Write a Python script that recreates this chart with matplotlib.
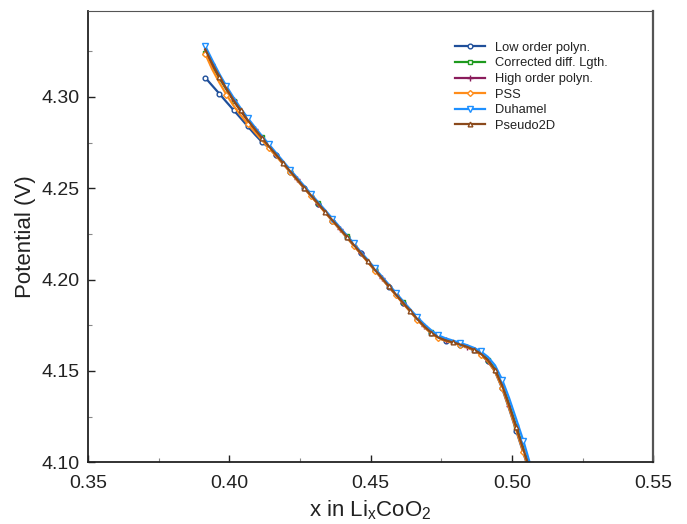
import matplotlib
matplotlib.use("Agg")
import matplotlib.pyplot as plt
from matplotlib.ticker import MultipleLocator, FormatStrFormatter

plt.rcParams['font.family'] = ['Liberation Sans', 'DejaVu Sans']
plt.rcParams['mathtext.default'] = 'regular'

x_li = [0.3915, 0.3940, 0.3965, 0.3990, 0.4015, 0.4040, 0.4065, 0.4090, 0.4115, 0.4140,
        0.4165, 0.4190, 0.4215, 0.4240, 0.4265, 0.4290, 0.4315, 0.4340, 0.4365, 0.4390,
        0.4415, 0.4440, 0.4465, 0.4490, 0.4515, 0.4540, 0.4565, 0.4590, 0.4615, 0.4640,
        0.4665, 0.4690, 0.4715, 0.4740, 0.4765, 0.4790, 0.4815, 0.4840, 0.4865, 0.4890,
        0.4915, 0.4940, 0.4965, 0.4990, 0.5015, 0.5040, 0.5065]

low_order = [4.3105, 4.3061, 4.3017, 4.2972, 4.2928, 4.2884, 4.2839, 4.2795, 4.2754, 4.2722,
             4.2680, 4.2636, 4.2591, 4.2546, 4.2501, 4.2457, 4.2412, 4.2367, 4.2322, 4.2278,
             4.2233, 4.2188, 4.2143, 4.2097, 4.2051, 4.2006, 4.1960, 4.1915, 4.1870, 4.1826,
             4.1782, 4.1741, 4.1706, 4.1680, 4.1665, 4.1654, 4.1643, 4.1630, 4.1613, 4.1589,
             4.1552, 4.1496, 4.1405, 4.1292, 4.1172, 4.1052, 4.0932]

corrected = [4.3240, 4.3168, 4.3102, 4.3040, 4.2980, 4.2925, 4.2873, 4.2825, 4.2778, 4.2731,
             4.2686, 4.2641, 4.2596, 4.2551, 4.2506, 4.2461, 4.2417, 4.2372, 4.2327, 4.2282,
             4.2238, 4.2193, 4.2148, 4.2102, 4.2056, 4.2011, 4.1965, 4.1920, 4.1875, 4.1831,
             4.1787, 4.1746, 4.1711, 4.1685, 4.1669, 4.1658, 4.1647, 4.1634, 4.1618, 4.1596,
             4.1562, 4.1510, 4.1427, 4.1318, 4.1198, 4.1078, 4.0958]

high_order = [4.3258, 4.3178, 4.3108, 4.3044, 4.2981, 4.2925, 4.2872, 4.2823, 4.2775, 4.2729,
              4.2683, 4.2638, 4.2593, 4.2548, 4.2503, 4.2458, 4.2414, 4.2369, 4.2324, 4.2279,
              4.2235, 4.2190, 4.2144, 4.2099, 4.2053, 4.2007, 4.1962, 4.1917, 4.1872, 4.1828,
              4.1785, 4.1744, 4.1709, 4.1683, 4.1667, 4.1656, 4.1645, 4.1632, 4.1615, 4.1592,
              4.1556, 4.1502, 4.1416, 4.1305, 4.1185, 4.1065, 4.0945]

pss = [4.3235, 4.3150, 4.3078, 4.3012, 4.2952, 4.2900, 4.2853, 4.2808, 4.2764, 4.2720,
       4.2677, 4.2633, 4.2589, 4.2544, 4.2499, 4.2455, 4.2410, 4.2365, 4.2320, 4.2276,
       4.2231, 4.2186, 4.2141, 4.2095, 4.2049, 4.2004, 4.1958, 4.1913, 4.1868, 4.1824,
       4.1780, 4.1739, 4.1704, 4.1679, 4.1664, 4.1653, 4.1642, 4.1629, 4.1612, 4.1588,
       4.1552, 4.1496, 4.1408, 4.1296, 4.1176, 4.1056, 4.0936]

duhamel = [4.3278, 4.3200, 4.3125, 4.3058, 4.2996, 4.2938, 4.2885, 4.2835, 4.2787, 4.2740,
           4.2694, 4.2648, 4.2602, 4.2557, 4.2512, 4.2467, 4.2422, 4.2378, 4.2333, 4.2288,
           4.2243, 4.2198, 4.2152, 4.2107, 4.2061, 4.2016, 4.1971, 4.1926, 4.1881, 4.1837,
           4.1794, 4.1755, 4.1721, 4.1694, 4.1678, 4.1666, 4.1654, 4.1641, 4.1626, 4.1606,
           4.1576, 4.1530, 4.1452, 4.1350, 4.1235, 4.1118, 4.0985]

pseudo2d = [4.3260, 4.3180, 4.3110, 4.3045, 4.2982, 4.2926, 4.2873, 4.2824, 4.2776, 4.2729,
            4.2684, 4.2638, 4.2593, 4.2548, 4.2503, 4.2459, 4.2414, 4.2369, 4.2324, 4.2280,
            4.2235, 4.2190, 4.2145, 4.2099, 4.2053, 4.2008, 4.1962, 4.1917, 4.1872, 4.1828,
            4.1784, 4.1743, 4.1708, 4.1682, 4.1667, 4.1656, 4.1645, 4.1632, 4.1616, 4.1593,
            4.1558, 4.1505, 4.1420, 4.1310, 4.1190, 4.1070, 4.0950]

labels = ["Low order polyn.", "Corrected diff. Lgth.", "High order polyn.",
          "PSS", "Duhamel", "Pseudo2D"]
series = [low_order, corrected, high_order, pss, duhamel, pseudo2d]

styles = [
    dict(color='#1f4f9a', marker='o', markevery=(0, 2), ms=3.4),
    dict(color='#1e9a1e', marker='s', markevery=(0, 4), ms=3.2),
    dict(color='#8a1c5c', marker='+', markevery=(1, 3), ms=4.0),
    dict(color='#ff8c1a', marker='D', markevery=(0, 3), ms=3.0),
    dict(color='#1e90ff', marker='v', markevery=(0, 3), ms=4.3),
    dict(color='#8b4a1c', marker='^', markevery=(2, 3), ms=3.4),
]

fig = plt.figure(figsize=(6.87, 5.24), dpi=100)
ax = fig.add_axes([0.128, 0.118, 0.823, 0.861])

for y, lab, st in zip(series, labels, styles):
    st = dict(st)
    ms = st.pop('ms')
    ax.plot(x_li, y, label=lab, lw=1.6, ms=ms, mfc='white', mew=1.0, **st)

ax.set_xlim(0.35, 0.55)
ax.set_ylim(4.10, 4.347)
ax.xaxis.set_major_locator(MultipleLocator(0.05))
ax.xaxis.set_minor_locator(MultipleLocator(0.025))
ax.yaxis.set_major_locator(MultipleLocator(0.05))
ax.yaxis.set_minor_locator(MultipleLocator(0.025))
ax.xaxis.set_major_formatter(FormatStrFormatter('%.2f'))
ax.yaxis.set_major_formatter(FormatStrFormatter('%.2f'))
ax.set_yticks([4.10, 4.15, 4.20, 4.25, 4.30])
ax.tick_params(which='both', direction='in', top=False, right=False, labelsize=14, colors='#222222')
ax.tick_params(axis='x', which='major', pad=9)
ax.tick_params(axis='y', which='major', pad=6)
ax.tick_params(which='major', length=5, width=1.0)
ax.tick_params(which='minor', length=3, width=0.8, color='#888888')

for s in ['left', 'bottom']:
    ax.spines[s].set_linewidth(1.3)
    ax.spines[s].set_color('#222222')
ax.spines['top'].set_linewidth(0.8)
ax.spines['top'].set_color('#555555')
ax.spines['right'].set_linewidth(1.6)
ax.spines['right'].set_color('#555555')

ax.set_xlabel('x in Li$_{x}$CoO$_{2}$', fontsize=16, color='#222222', labelpad=5)
ax.set_ylabel('Potential (V)', fontsize=16, color='#222222', labelpad=4)

leg = ax.legend(loc='upper left', bbox_to_anchor=(0.650, 0.932), frameon=False,
                fontsize=9.3, handlelength=2.3, handletextpad=0.8, labelspacing=0.28,
                borderpad=0.0, borderaxespad=0.0)
for t in leg.get_texts():
    t.set_color('#222222')

fig.savefig('out.png', dpi=100)
